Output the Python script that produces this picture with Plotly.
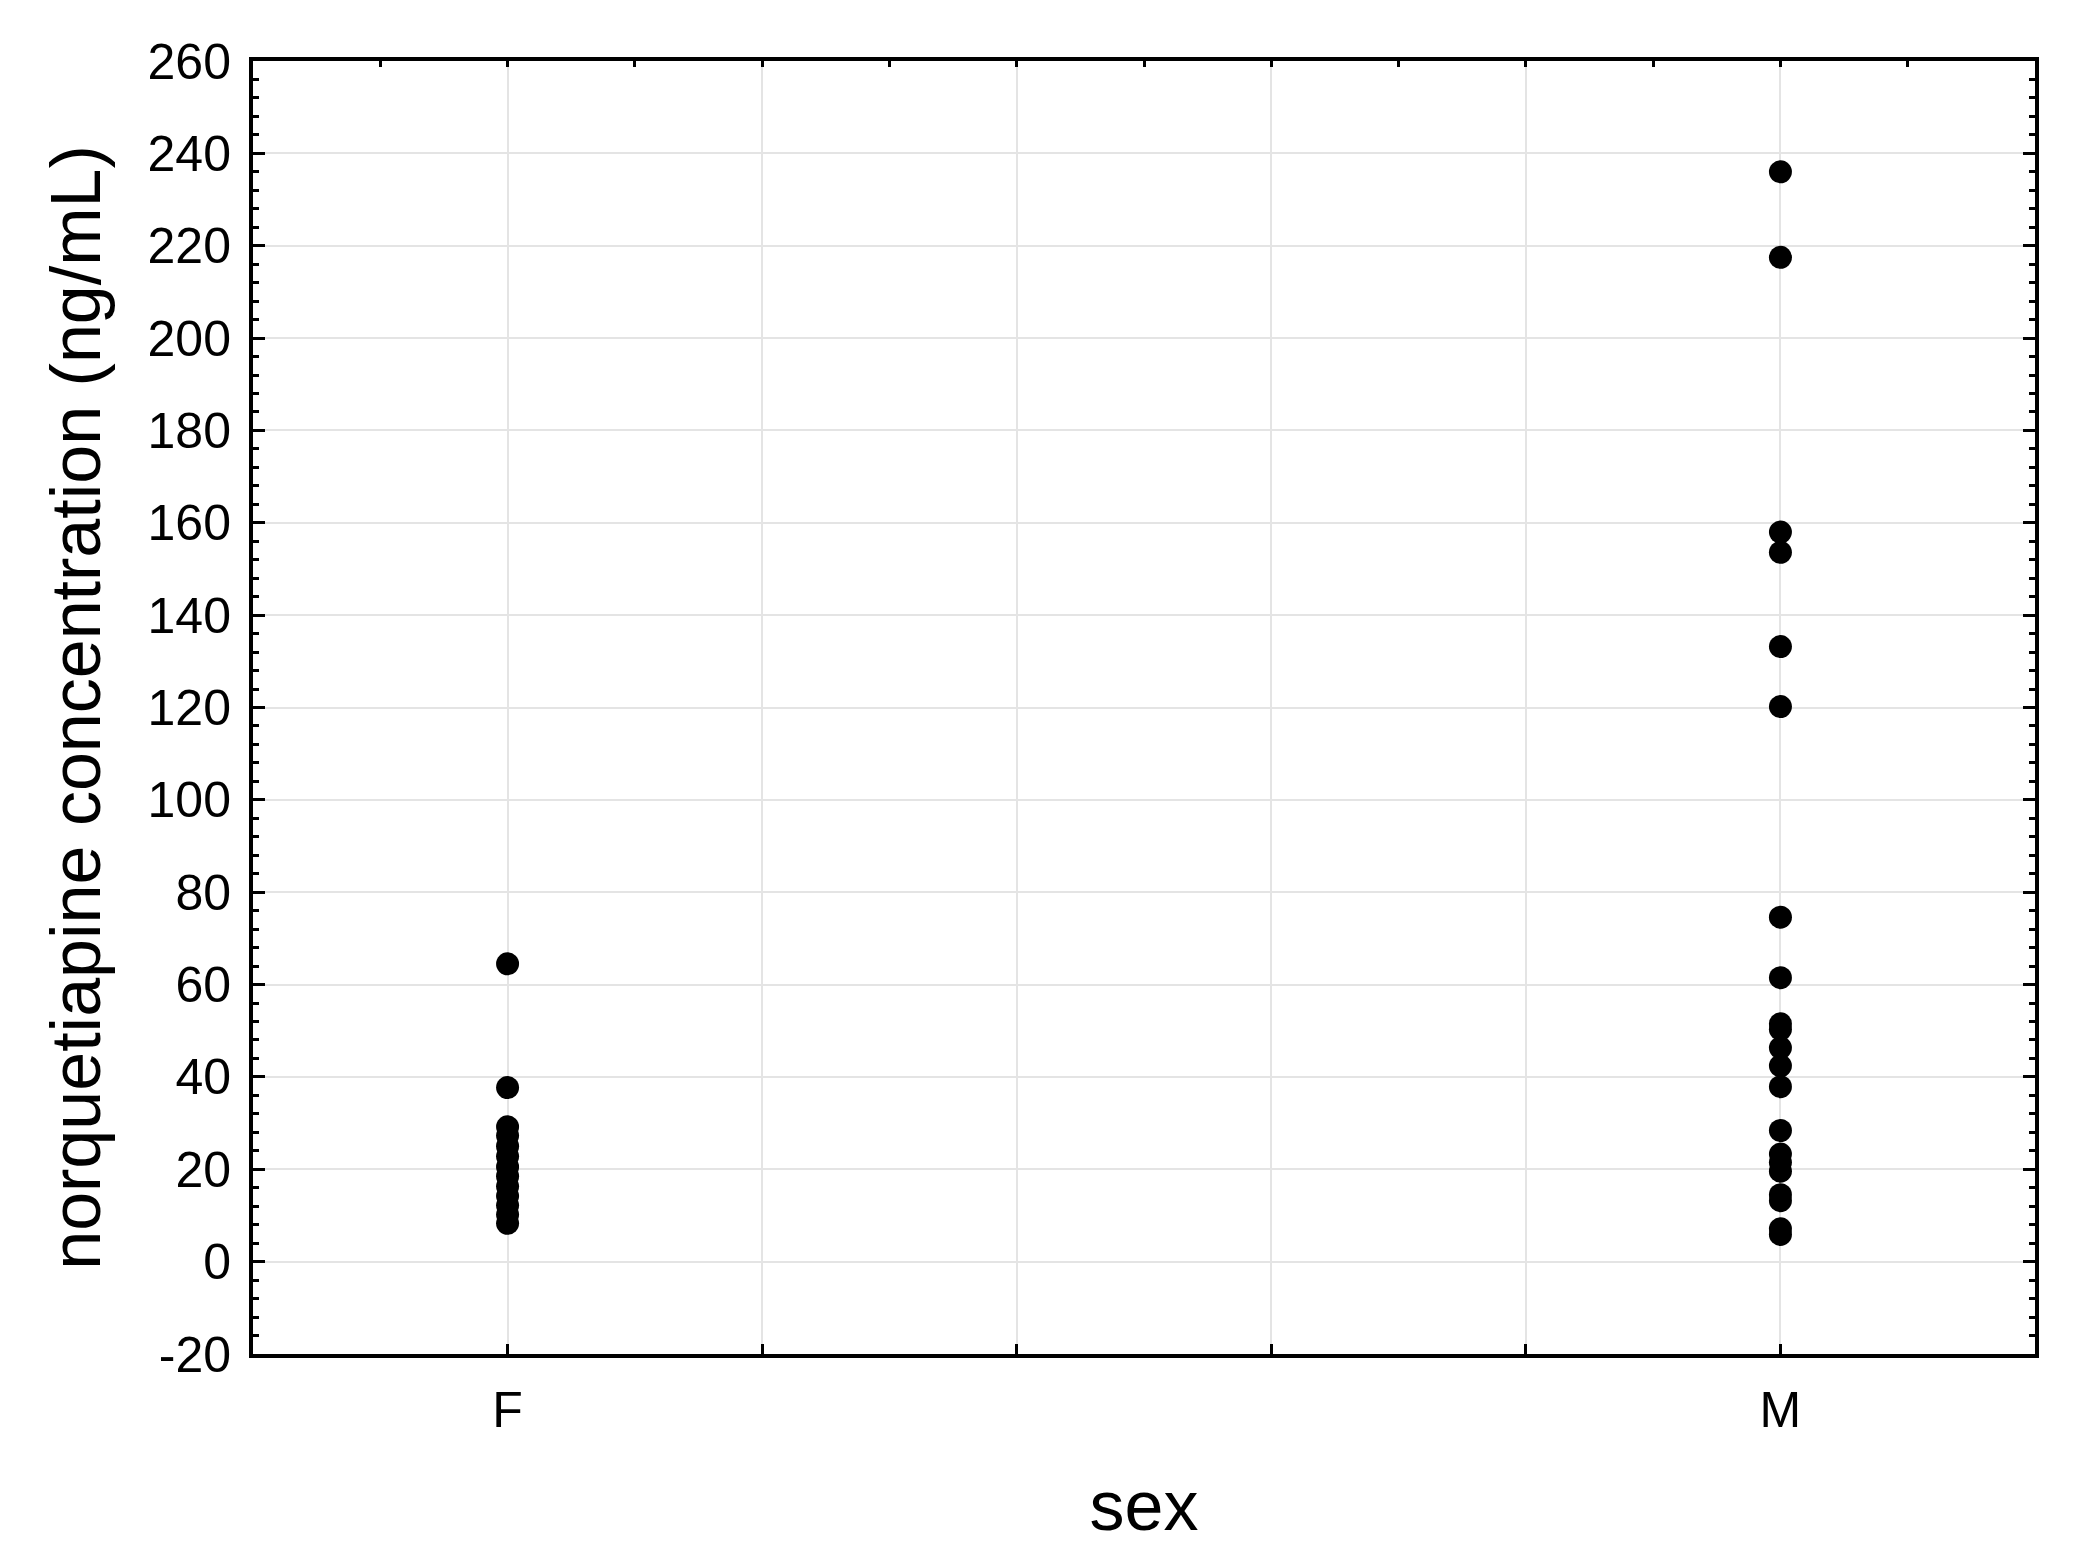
import plotly.graph_objects as go

# 读图得到的数据 (ng/mL)
sex_positions = {"F": 1, "M": 6}

female_conc = [64.5, 37.7, 29.2, 27.3, 25.0, 22.8, 20.5, 18.5, 16.3, 14.2, 12.2, 10.2, 8.3]
male_conc = [236.0, 217.5, 158.0, 153.6, 133.2, 120.2, 74.6, 61.5, 51.5, 50.3,
             46.3, 42.4, 37.9, 28.4, 23.3, 21.5, 19.6, 14.5, 13.2, 7.1, 5.9]

x_grid = [1, 2, 3, 4, 5, 6]
x_ticktext = ["F", "", "", "", "", "M"]
top_ticks = [0.5, 1, 1.5, 2, 2.5, 3, 3.5, 4, 4.5, 5, 5.5, 6, 6.5]

y_ticks = [-20, 0, 20, 40, 60, 80, 100, 120, 140, 160, 180, 200, 220, 240, 260]
y_ticktext = ["-20", "0", "20", "40", "60", "80", "100", "120", "140",
              "160", "180", "200", "220", "240", "260"]

FONT = "Liberation Sans, Arial, sans-serif"

fig = go.Figure()
for label, values in (("F", female_conc), ("M", male_conc)):
    fig.add_trace(go.Scatter(
        x=[sex_positions[label]] * len(values),
        y=values,
        mode="markers",
        marker=dict(color="black", size=23, line=dict(width=0)),
        showlegend=False,
        name=label,
    ))

# 顶部轴只用来画半格刻度
fig.add_trace(go.Scatter(x=[None], y=[None], xaxis="x2", showlegend=False,
                         hoverinfo="skip"))

# 页面 body 自带 8px 边距,边距里先减掉
fig.update_layout(
    width=2100,
    height=1558,
    paper_bgcolor="white",
    plot_bgcolor="white",
    font=dict(family=FONT, color="black", size=50),
    margin=dict(l=245, r=73, t=53, b=212),
    xaxis=dict(
        range=[0, 7],
        tickmode="array",
        tickvals=x_grid,
        ticktext=x_ticktext,
        showgrid=True,
        gridcolor="#e4e4e4",
        gridwidth=1.5,
        zeroline=False,
        showline=True,
        linecolor="black",
        linewidth=4,
        ticks="inside",
        ticklen=10,
        tickwidth=3,
        tickcolor="black",
        ticklabelstandoff=9,
        tickfont=dict(size=50),
        automargin=False,
        title=dict(text="sex", font=dict(size=70), standoff=45),
    ),
    xaxis2=dict(
        overlaying="x",
        side="top",
        range=[0, 7],
        tickmode="array",
        tickvals=top_ticks,
        showticklabels=False,
        showgrid=False,
        zeroline=False,
        showline=True,
        linecolor="black",
        linewidth=4,
        ticks="inside",
        ticklen=6,
        tickwidth=3,
        tickcolor="black",
        automargin=False,
    ),
    yaxis=dict(
        range=[-20, 260],
        tickmode="array",
        tickvals=y_ticks,
        ticktext=y_ticktext,
        showgrid=True,
        gridcolor="#e4e4e4",
        gridwidth=1.5,
        zeroline=False,
        showline=True,
        mirror="ticks",
        linecolor="black",
        linewidth=4,
        ticks="inside",
        ticklen=12,
        tickwidth=3,
        tickcolor="black",
        ticklabelstandoff=8,
        tickfont=dict(size=50),
        automargin=False,
        minor=dict(dtick=4, tick0=0, ticks="inside", ticklen=6, tickwidth=3,
                   tickcolor="black", showgrid=False),
        title=dict(text="norquetiapine concentration (ng/mL)",
                   font=dict(size=70), standoff=25),
    ),
)

fig.write_html("out.html")
